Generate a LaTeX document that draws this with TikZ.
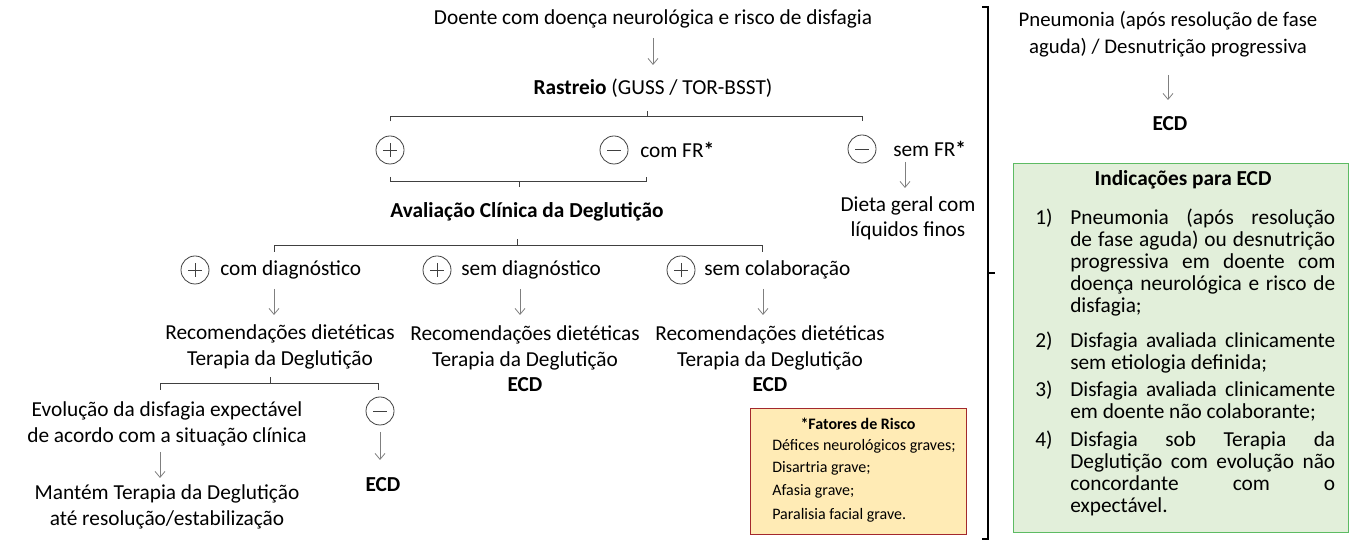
\documentclass[tikz,border=0pt]{standalone}
\usepackage{fontspec}
\setmainfont{Carlito}
\usetikzlibrary{arrows.meta}
\definecolor{gline}{HTML}{404040}
\definecolor{garrow}{HTML}{7F7F7F}
\definecolor{fatfill}{HTML}{FFEBB5}
\definecolor{fatdraw}{HTML}{A3282D}
\definecolor{grfill}{HTML}{E2EFDA}
\definecolor{grdraw}{HTML}{5DBB63}
\newlength{\jlw}
\setlength{\jlw}{198.75pt}
\newcommand{\jl}[1]{\makebox[\jlw][s]{#1}\\}
\newcommand{\listbox}[1]{\parbox[t]{\jlw}{#1}}
\begin{document}
\begin{tikzpicture}[x=0.75pt,y=-0.75pt,
  font=\fontsize{16}{19}\selectfont,
  txt/.style={inner sep=0pt, align=center},
  sign/.style={circle, draw=gline, line width=0.6pt, minimum size=21pt, inner sep=0pt},
  plus/.style={sign, path picture={\draw[gline,line width=0.6pt]
     ([xshift=-5pt]path picture bounding box.center) -- ([xshift=5pt]path picture bounding box.center)
     ([yshift=-5pt]path picture bounding box.center) -- ([yshift=5pt]path picture bounding box.center);}},
  minus/.style={sign, path picture={\draw[gline,line width=0.6pt]
     ([xshift=-5pt]path picture bounding box.center) -- ([xshift=5pt]path picture bounding box.center);}},
  arr/.style={draw=garrow, line width=0.6pt, -{Straight Barb[length=4.5pt,width=7.5pt]}},
  brk/.style={draw=gline, line width=0.6pt},
  small/.style={font=\fontsize{12}{14}\selectfont},
]
\useasboundingbox (0,0) rectangle (1350,548);

% ---------- left flow ----------
\node[txt] (doente) at (653,19) {Doente com doença neurológica e risco de disfagia};
\node[txt] (rastreio) at (653,88) {\textbf{Rastreio} (GUSS / TOR-BSST)};
\draw[arr] (doente.south |- 0,38) -- (rastreio.north |- 0,65);

\node[plus] (p1) at (390,150) {};
\node[minus] (m1) at (614,150) {};
\node[txt, anchor=west] (comfr) at (640,150) {com FR\textbf{*}};
\node[minus] (m2) at (862,149) {};
\node[txt, anchor=west] (semfr) at (893,149) {sem FR\textbf{*}};

\coordinate (b1l) at (p1.center |- 0,116);
\coordinate (b1r) at (m2.center |- 0,116);
\draw[brk] ([yshift=-4pt]b1l) -- (b1l) -- (b1r) -- ([yshift=-4pt]b1r);
\draw[brk] (rastreio.south |- 0,116) ++(-6,0) -- ++(0,-5);

\node[txt] (aval) at (527,212) {\textbf{Avaliação Clínica da Deglutição}};
\coordinate (b2l) at (p1.center |- 0,181);
\coordinate (b2r) at (646,181);
\draw[brk] ([yshift=3pt]b2l) -- (b2l) -- (b2r) -- ([yshift=3pt]b2r);
\draw[brk] (519,181) -- (519,187);

\node[txt] (dieta) at (908,218) {Dieta geral com\\líquidos finos};
\coordinate (dtop) at (905,162);
\draw[arr] (dtop) -- (dtop |- 0,188);

% second level
\node[plus] (p2) at (195,270) {};
\node[txt, anchor=west] (comdiag) at (220,270) {com diagnóstico};
\node[plus] (p3) at (437,270) {};
\node[txt, anchor=west] (semdiag) at (461,270) {sem diagnóstico};
\node[plus] (p4) at (681,270) {};
\node[txt, anchor=west] (semcol) at (704,270) {sem colaboração};

\coordinate (b3l) at (274,245);
\coordinate (b3r) at (762,245);
\draw[brk] ([yshift=-5pt]b3l) -- (b3l) -- (b3r) -- ([yshift=-5pt]b3r);
\draw[brk] (aval.south |- 0,245) ++(-10,0) -- ++(0,-6);

\node[txt] (rec1) at (280,347) {Recomendações dietéticas\\Terapia da Deglutição};
\node[txt] (rec2) at (525,359) {Recomendações dietéticas\\Terapia da Deglutição\\\textbf{ECD}};
\node[txt] (rec3) at (770,359) {Recomendações dietéticas\\Terapia da Deglutição\\\textbf{ECD}};
\draw[arr] (274,289) -- (274,315);
\draw[arr] (520,289) -- (520,315);
\draw[arr] (763,289) -- (763,315);

% third level
\coordinate (b4l) at (160,383);
\coordinate (b4r) at (378,383);
\draw[brk] ([yshift=-5pt]b4l) -- (b4l) -- (b4r) -- ([yshift=-5pt]b4r);
\draw[brk] (270,383) -- (270,377);

\node[txt] (evol) at (167,424) {Evolução da disfagia expectável\\de acordo com a situação clínica};
\node[minus] (m3) at (380,411) {};
\node[txt] (ecd3) at (383,485) {\textbf{ECD}};
\node[txt] (mantem) at (167,507) {Mantém Terapia da Deglutição\\até resolução/estabilização};
\draw[arr] (160,452) -- (160,478);
\draw[arr] (m3.south |- 0,432) -- (m3.south |- 0,460);

% Fatores de risco box
\node[draw=fatdraw, fill=fatfill, line width=0.8pt, minimum width=162pt, minimum height=94.5pt, inner sep=0pt, anchor=north west] (fat) at (750,408) {};
\node[txt, font=\fontsize{12}{14}\selectfont\bfseries] (fattit) at (858,424) {*Fatores de Risco};
\node[small, inner sep=0pt, anchor=base west] (f1) at (772,451) {Défices neurológicos graves;};
\node[small, inner sep=0pt, anchor=base west] (f2) at (772,473) {Disartria grave;};
\node[small, inner sep=0pt, anchor=base west] (f3) at (772,496) {Afasia grave;};
\node[small, inner sep=0pt, anchor=base west] (f4) at (772,520) {Paralisia facial grave.};

% big bracket
\draw[draw=black, line width=0.8pt] (982,7) -- (988,7) -- (988,539) -- (982,539);
\draw[draw=black, line width=0.8pt] (988,273) -- (995,273);

% ---------- right column ----------
\node[txt, font=\fontsize{15.6}{20}\selectfont] (pneu) at (1168,34) {Pneumonia (após resolução de fase\\aguda) / Desnutrição progressiva};
\node[txt] (ecdr) at (1170,124) {\textbf{ECD}};
\draw[arr] (1168,75) -- (1168,100);

\node[draw=grdraw, fill=grfill, line width=0.8pt, minimum width=251.25pt, minimum height=276.75pt, inner sep=0pt, anchor=north west] (green) at (1013,163) {};
\node[txt] (gtit) at (1183,180) {\textbf{Indicações para ECD}};

\begin{scope}[every node/.style={inner sep=0pt, anchor=base west, font=\fontsize{16}{16.5}\selectfont}]
\node (n1) at (1035,225) {1)};
\node (i1) at (1070,225) {\listbox{\jl{Pneumonia (após resolução}\jl{de fase aguda) ou desnutrição}\jl{progressiva em doente com}\jl{doença neurológica e risco de}disfagia;}};
\node (n2) at (1035,348) {2)};
\node (i2) at (1070,348) {\listbox{\jl{Disfagia avaliada clinicamente}sem etiologia definida;}};
\node (n3) at (1035,397) {3)};
\node (i3) at (1070,397) {\listbox{\jl{Disfagia avaliada clinicamente}em doente não colaborante;}};
\node (n4) at (1035,447) {4)};
\node (i4) at (1070,447) {\listbox{\jl{Disfagia sob Terapia da}\jl{Deglutição com evolução não}\jl{concordante com o}expectável.}};
\end{scope}
\end{tikzpicture}
\end{document}
